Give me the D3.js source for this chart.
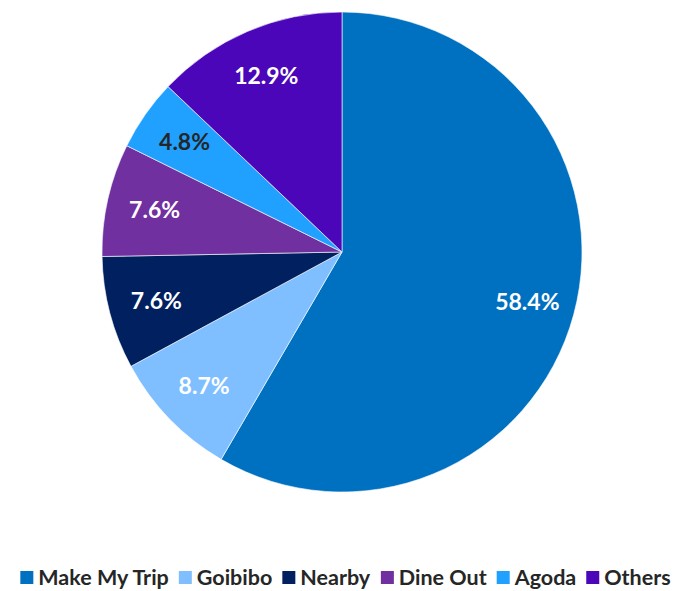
<!DOCTYPE html>
<html>
<head>
<meta charset="utf-8">
<script src="https://cdn.jsdelivr.net/npm/d3@7"></script>
<style>
  body { margin: 0; background: #fff; }
  svg { display: block; font-family: Lato, "Open Sans", sans-serif; }
</style>
</head>
<body>
<svg width="681" height="591"></svg>
<script>
// dati del grafico
const categories = ["Make My Trip", "Goibibo", "Nearby", "Dine Out", "Agoda", "Others"];
const shares = [58.4, 8.7, 7.6, 7.6, 4.8, 12.9];
const sliceColors = ["#0070C0", "#7FBFFF", "#002060", "#7030A0", "#20A0FF", "#4A06B8"];
const labelColors = ["#fff", "#fff", "#fff", "#fff", "#262626", "#fff"];

const svg = d3.select("svg");
const width = +svg.attr("width");

const cx = 342, cy = 252, radius = 240;

const data = categories.map((c, i) => ({ name: c, value: shares[i], i }));

const pie = d3.pie().value(d => d.value).sort(null);
const arc = d3.arc().innerRadius(0).outerRadius(radius);
const labelArc = d3.arc().innerRadius(radius * 0.8).outerRadius(radius * 0.8);

const g = svg.append("g").attr("transform", `translate(${cx},${cy})`);

const slices = g.selectAll(".slice")
  .data(pie(data))
  .join("g")
  .attr("class", "slice");

slices.append("path")
  .attr("d", arc)
  .attr("fill", d => sliceColors[d.data.i])
  .attr("stroke", "#fff")
  .attr("stroke-width", 0.6);

// etichette percentuali
slices.append("text")
  .attr("transform", d => `translate(${labelArc.centroid(d)})`)
  .attr("text-anchor", "middle")
  .attr("dy", "0.35em")
  .attr("font-size", "23px")
  .attr("font-weight", "bold")
  .attr("fill", d => labelColors[d.data.i])
  .text(d => d.data.value.toFixed(1) + "%");

// legenda in basso
const legendY = 577;
const legend = svg.append("g");
const items = legend.selectAll(".item")
  .data(data)
  .join("g")
  .attr("class", "item");

items.append("rect")
  .attr("y", -6)
  .attr("width", 13)
  .attr("height", 13)
  .attr("fill", d => sliceColors[d.i]);

items.append("text")
  .attr("x", 18)
  .attr("dy", "0.35em")
  .attr("font-size", "21.5px")
  .attr("font-weight", "bold")
  .attr("fill", "#262626")
  .text(d => d.name);

// posiziona gli elementi della legenda uno dopo l'altro, centrati
let x = 0;
const gap = 10;
items.each(function() {
  const w = this.getBBox().width;
  d3.select(this).attr("transform", `translate(${x},0)`);
  x += w + gap;
});
const total = x - gap;
legend.attr("transform", `translate(${(width - total) / 2 + 5}, ${legendY})`);
</script>
</body>
</html>
